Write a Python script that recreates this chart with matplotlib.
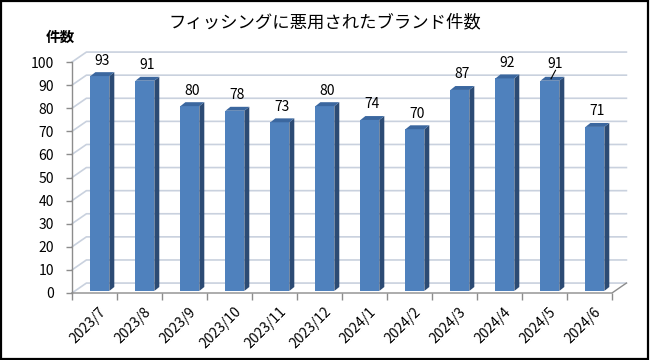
import matplotlib
matplotlib.use('Agg')
import matplotlib.pyplot as plt
from matplotlib.patches import Polygon, Rectangle

plt.rcParams['font.family'] = ['Noto Sans CJK JP', 'DejaVu Sans']

# data
months = ['2023/7', '2023/8', '2023/9', '2023/10', '2023/11', '2023/12',
          '2024/1', '2024/2', '2024/3', '2024/4', '2024/5', '2024/6']
counts = [93, 91, 80, 78, 73, 80, 74, 70, 87, 92, 91, 71]
yticks = list(range(0, 101, 10))
title = 'フィッシングに悪用されたブランド件数'
ylabel = '件数'

# 3d look (in data units)
wall_dx, wall_dy = 0.32, 4.3     # depth of back wall
bar_dx, bar_dy = 0.11, 1.7       # depth of each bar
off_x, off_y = 0.12, 0.9         # bar front offset from front plane
bar_w = 0.42

front_c = '#4f81bd'
side_c = '#2c4b74'
top_c = '#3b679f'
grid_c = '#c9d1de'
axis_c = '#8c8c8c'

fig = plt.figure(figsize=(6.5, 3.6), dpi=100)
ax = fig.add_axes([72/650, 67/360, 540/650, 231/360])
ax.set_xlim(-0.5, len(months) - 0.5)
ax.set_ylim(0, 100)
for sp in ax.spines.values():
    sp.set_visible(False)

x0, x1 = -0.5, len(months) - 0.5

# back wall gridlines
for y in yticks:
    ax.plot([x0, x0 + wall_dx, x1 + wall_dx], [y, y + wall_dy, y + wall_dy],
            color=grid_c, lw=1.2, clip_on=False, zorder=0)

# front floor edge + left axis
ax.plot([x0, x1, x1 + wall_dx], [0, 0, wall_dy], color=axis_c, lw=1, clip_on=False, zorder=1)
ax.plot([x0, x0], [0, 100], color=axis_c, lw=1, clip_on=False, zorder=1)

# bars
for i, v in enumerate(counts):
    left = i - bar_w / 2 + off_x
    right = left + bar_w
    b = off_y
    t = v + off_y
    ax.bar(left + bar_w / 2, v, width=bar_w, bottom=b, color=front_c, zorder=3)
    ax.add_patch(Polygon([(right, b), (right + bar_dx, b + bar_dy),
                          (right + bar_dx, t + bar_dy), (right, t)],
                         closed=True, facecolor=side_c, edgecolor='none', zorder=3))
    ax.add_patch(Polygon([(left, t), (left + bar_dx, t + bar_dy),
                          (right + bar_dx, t + bar_dy), (right, t)],
                         closed=True, facecolor=top_c, edgecolor='none', zorder=4))
    cx = left + bar_w / 2 + bar_dx / 2
    if i == 10:
        # label was dragged a bit, so excel drew a leader line
        ax.text(cx + 0.07, t + bar_dy + 2.6, str(v), ha='center', va='bottom',
                fontsize=10, zorder=5, clip_on=False)
        ax.plot([cx - 0.03, cx + 0.07], [t + bar_dy * 0.5, t + bar_dy + 2.8],
                color='black', lw=0.8, zorder=5, clip_on=False)
    else:
        ax.text(cx, t + bar_dy + 2.0, str(v), ha='center', va='bottom',
                fontsize=10, zorder=5, clip_on=False)

# ticks
ax.set_yticks(yticks)
ax.set_yticklabels([str(y) for y in yticks], fontsize=10)
ax.tick_params(axis='y', length=4, width=1, color=axis_c, pad=9)
ax.set_xticks([i - 0.5 for i in range(len(months) + 1)])
ax.set_xticklabels([])
ax.tick_params(axis='x', length=5, width=1, color=axis_c)
for i, m in enumerate(months):
    ax.text(i + 0.1, -5.0, m, rotation=45, ha='right', va='top',
            rotation_mode='anchor', fontsize=10, clip_on=False)

fig.text(325/650, 1 - 22/360, title, ha='center', va='center', fontsize=12.5)
fig.text(60/650, 1 - 37/360, ylabel, ha='center', va='center', fontsize=10.5, fontweight='bold')

# outer frame
fig.patches.append(Rectangle((0.002, 0.004), 0.995, 0.992, transform=fig.transFigure,
                             fill=False, edgecolor='black', lw=1.6))

fig.savefig('out.png', dpi=100)
